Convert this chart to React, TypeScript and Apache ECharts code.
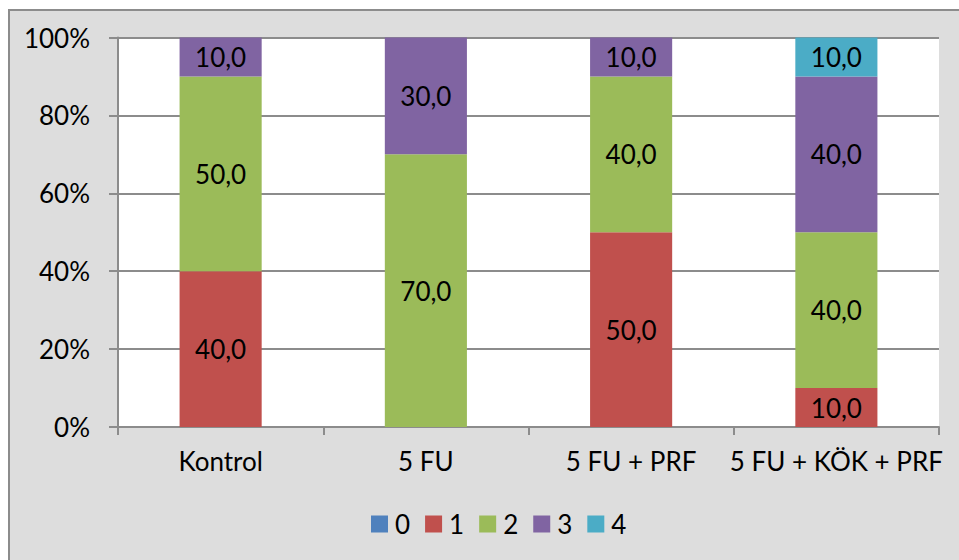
import React, { useEffect, useRef } from "react";
import * as echarts from "echarts";

const categories = ["Kontrol", "5 FU", "5 FU + PRF", "5 FU + KÖK + PRF"];
const seriesNames = ["0", "1", "2", "3", "4"];
const s0 = [0, 0, 0, 0];
const s1 = [40, 0, 50, 10];
const s2 = [50, 70, 40, 40];
const s3 = [10, 30, 10, 40];
const s4 = [0, 0, 0, 10];
const yTicks = [0, 20, 40, 60, 80, 100];
const colors = ["#4F81BD", "#C0504D", "#9BBB59", "#8064A2", "#4BACC6"];

const FONT = "Lato";
const FS = 26;

export default function App() {
  const ref = useRef<HTMLDivElement>(null);
  useEffect(() => {
    if (!ref.current) return;
    const chart = echarts.init(ref.current, undefined, { renderer: "svg" });
    const values = [s0, s1, s2, s3, s4];
    const option: any = {
      animation: false,
      backgroundColor: "#ffffff",
      textStyle: { fontFamily: FONT },
      graphic: [
        {
          type: "rect",
          z: -10,
          silent: true,
          shape: { x: 9, y: 10, width: 980, height: 580 },
          style: { fill: "#DDDDDD", stroke: "#8c8c8c", lineWidth: 2 },
        },
      ],
      grid: {
        left: 118,
        top: 37.5,
        right: 20,
        bottom: 133,
        show: true,
        backgroundColor: "#ffffff",
        borderWidth: 0,
        containLabel: false,
      },
      legend: {
        left: 366,
        top: 506,
        itemWidth: 17,
        itemHeight: 17,
        itemGap: 15,
        icon: "rect",
        data: seriesNames,
        textStyle: { fontFamily: FONT, fontSize: FS, color: "#000", padding: [0, 0, 0, 2] },
      },
      xAxis: {
        type: "category",
        data: categories,
        boundaryGap: true,
        axisLine: { show: true, lineStyle: { color: "#8c8c8c", width: 2 } },
        axisTick: { show: true, length: 8, alignWithLabel: false, lineStyle: { color: "#8c8c8c", width: 2 } },
        axisLabel: { interval: 0, margin: 21, fontFamily: FONT, fontSize: FS, color: "#000" },
      },
      yAxis: {
        type: "value",
        min: yTicks[0],
        max: yTicks[yTicks.length - 1],
        interval: 20,
        axisLine: { show: true, lineStyle: { color: "#8c8c8c", width: 2 } },
        axisTick: { show: true, length: 9, lineStyle: { color: "#8c8c8c", width: 2 } },
        splitLine: { show: true, lineStyle: { color: "#8c8c8c", width: 2 } },
        axisLabel: {
          margin: 28,
          fontFamily: FONT,
          fontSize: FS,
          color: "#000",
          formatter: (v: number) => v + "%",
        },
      },
      series: seriesNames.map((name, i) => ({
        name,
        type: "bar",
        stack: "total",
        barWidth: "40%",
        itemStyle: { color: colors[i] },
        data: values[i],
        label: {
          show: true,
          position: "inside",
          fontFamily: FONT,
          fontSize: FS,
          color: "#000",
          formatter: (p: any) => (p.value ? Number(p.value).toFixed(1).replace(".", ",") : ""),
        },
      })),
    };
    chart.setOption(option);
    return () => chart.dispose();
  }, []);
  return (
    <div
      ref={ref}
      style={{ position: "absolute", left: 0, top: 0, width: 959, height: 560 }}
    />
  );
}
